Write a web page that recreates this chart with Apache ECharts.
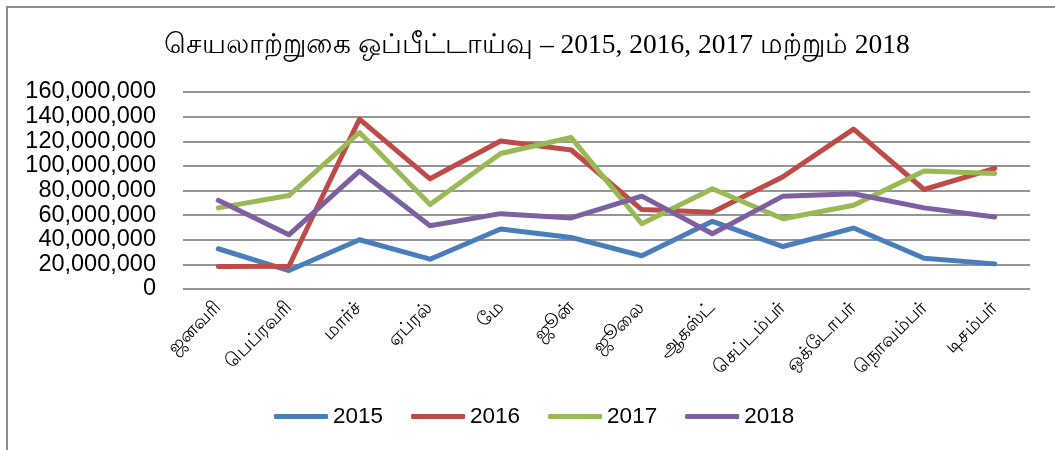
<!DOCTYPE html>
<html>
<head>
<meta charset="utf-8">
<script src="https://cdn.jsdelivr.net/npm/echarts@6/dist/echarts.min.js"></script>
<style>
  html, body { margin: 0; padding: 0; background: #fff; }
  #chart { width: 1055px; height: 450px; }
</style>
</head>
<body>
<div id="chart"></div>
<script>
// Monthly performance comparison, 2015–2018
const titleText = 'செயலாற்றுகை ஒப்பீட்டாய்வு – 2015, 2016, 2017 மற்றும் 2018';
const months = ['ஜனவரி', 'பெப்ரவரி', 'மார்ச்', 'ஏப்ரல்', 'மே', 'ஜூன்', 'ஜூலை', 'ஆகஸ்ட்', 'செப்டம்பர்', 'ஒக்டோபர்', 'நொவம்பர்', 'டிசம்பர்'];
const seriesNames = ['2015', '2016', '2017', '2018'];
const values2015 = [32700000, 15000000, 40000000, 24200000, 48700000, 41900000, 27000000, 55000000, 34500000, 49500000, 25000000, 20400000];
const values2016 = [18200000, 18500000, 138000000, 89500000, 120200000, 112900000, 64500000, 62300000, 91200000, 129800000, 80800000, 98000000];
const values2017 = [65900000, 75900000, 127100000, 68600000, 110000000, 123000000, 53000000, 81400000, 57100000, 68000000, 95800000, 93900000];
const values2018 = [72000000, 44000000, 95800000, 51400000, 61200000, 57700000, 75400000, 44900000, 75400000, 77300000, 65900000, 58500000];
const yTicks = { min: 0, max: 160000000, interval: 20000000 };
const palette = ['#4a7ebb', '#be4b48', '#98b954', '#7d60a0'];

const allValues = [values2015, values2016, values2017, values2018];

const chart = echarts.init(document.getElementById('chart'), null, { renderer: 'canvas' });

chart.setOption({
  animation: false,
  backgroundColor: '#ffffff',
  color: palette,
  graphic: [{
    type: 'rect',
    shape: { x: 7, y: 7, width: 1100, height: 500 },
    style: { fill: 'none', stroke: '#8c8c8c', lineWidth: 2 },
    silent: true
  }],
  title: {
    text: titleText,
    left: 532,
    textAlign: 'center',
    top: 27,
    textStyle: {
      fontFamily: '"Liberation Serif", "DejaVu Serif", serif',
      fontWeight: 'normal',
      fontSize: 27.5,
      color: '#000'
    }
  },
  legend: {
    data: seriesNames,
    left: 269,
    top: 400,
    icon: 'roundRect',
    itemWidth: 54,
    itemHeight: 5,
    itemGap: 28,
    textStyle: {
      fontFamily: '"Liberation Sans", Arial, sans-serif',
      fontSize: 22.5,
      color: '#000'
    }
  },
  grid: {
    left: 183,
    right: 25,
    top: 92,
    bottom: 161,
    containLabel: false
  },
  xAxis: {
    type: 'category',
    data: months,
    boundaryGap: true,
    axisLine: { show: false },
    axisTick: { show: false },
    axisLabel: {
      interval: 0,
      rotate: 45,
      margin: 16,
      color: '#000',
      fontSize: 19,
      fontFamily: '"Liberation Serif", serif'
    }
  },
  yAxis: {
    type: 'value',
    min: yTicks.min,
    max: yTicks.max,
    interval: yTicks.interval,
    axisLine: { show: false },
    axisTick: { show: false },
    axisLabel: {
      margin: 27,
      color: '#000',
      fontSize: 23.5,
      fontFamily: '"Liberation Sans", Arial, sans-serif',
      formatter: v => v.toLocaleString('en-US')
    },
    splitLine: { lineStyle: { color: '#959595', width: 2 } }
  },
  series: seriesNames.map((name, i) => ({
    name: name,
    type: 'line',
    data: allValues[i],
    symbol: 'none',
    lineStyle: { width: 5, color: palette[i], cap: 'round', join: 'round' },
    itemStyle: { color: palette[i] }
  }))
});
</script>
</body>
</html>
